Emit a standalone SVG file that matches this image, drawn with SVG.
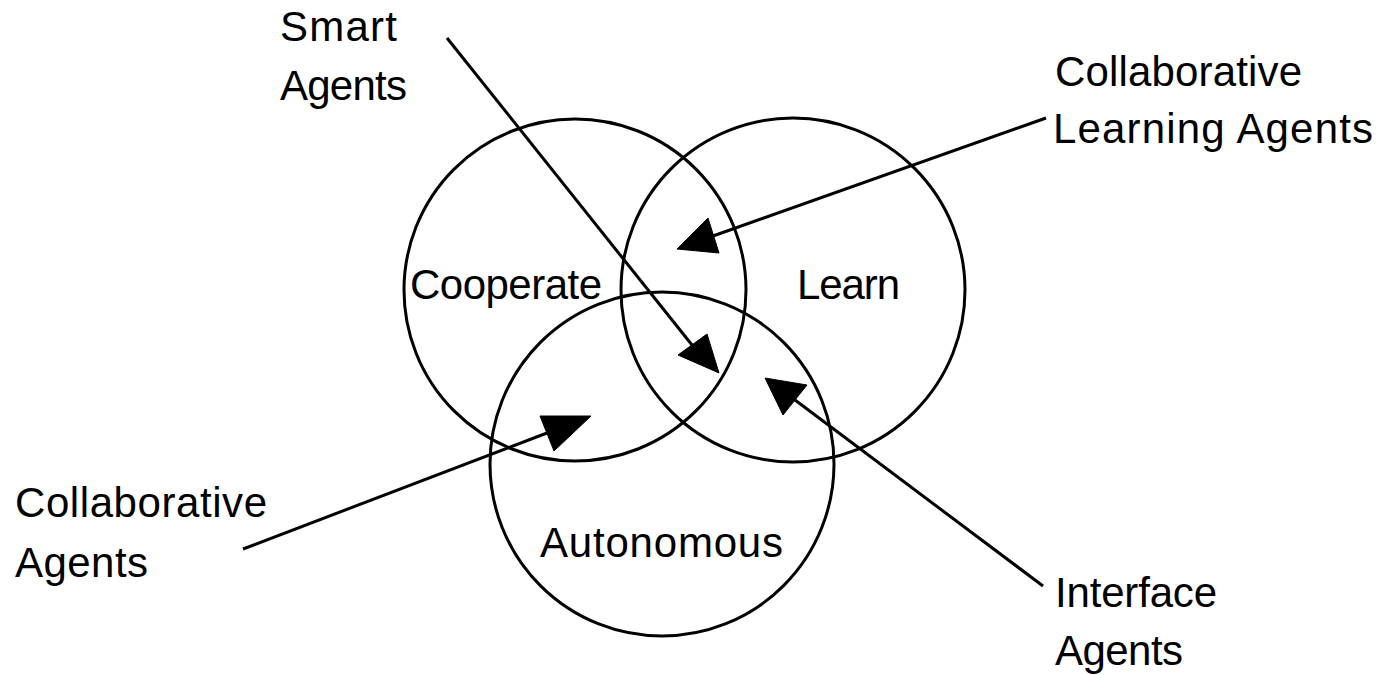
<svg xmlns="http://www.w3.org/2000/svg" width="1383" height="675" viewBox="0 0 1383 675">
<style>
.bg{fill:#ffffff}
.circ{fill:none;stroke:#000;stroke-width:3}
.ln{fill:none;stroke:#000;stroke-width:3}
.ah{fill:#000;stroke:#000;stroke-width:1}
.t{font-family:"Liberation Sans",Arial,sans-serif;font-size:42px;fill:#000}
</style>
<rect class="bg" x="0" y="0" width="1383" height="675"/>
<g id="cooperate">
<circle class="circ" cx="575" cy="290" r="171"/>
<text class="t" x="410" y="299" textLength="192">Cooperate</text>
</g>
<g id="learn">
<circle class="circ" cx="793" cy="290" r="172"/>
<text class="t" x="797" y="299" textLength="103">Learn</text>
</g>
<g id="autonomous">
<circle class="circ" cx="662" cy="464" r="172"/>
<text class="t" x="540" y="557" textLength="243">Autonomous</text>
</g>
<g id="smart-agents">
<text class="t" x="280" y="41" textLength="117">Smart</text>
<text class="t" x="280" y="100" textLength="127">Agents</text>
</g>
<g id="collaborative-learning-agents">
<text class="t" x="1055" y="86" textLength="247">Collaborative</text>
<text class="t" x="1053" y="143" textLength="320">Learning Agents</text>
</g>
<g id="collaborative-agents">
<text class="t" x="15" y="517" textLength="252">Collaborative</text>
<text class="t" x="15" y="577" textLength="133">Agents</text>
</g>
<g id="interface-agents">
<text class="t" x="1055" y="607" textLength="162">Interface</text>
<text class="t" x="1055" y="665" textLength="128">Agents</text>
</g>
<g id="connectors">
<line class="ln" x1="447" y1="38" x2="692" y2="345"/>
<polygon class="ah" points="678,355 707,334 719,373"/>
<line class="ln" x1="1046" y1="118" x2="713" y2="236"/>
<polygon class="ah" points="677,249 708,218 719,253"/>
<line class="ln" x1="1043" y1="586" x2="795" y2="400"/>
<polygon class="ah" points="765,378 807,385 783,415"/>
<line class="ln" x1="243" y1="549" x2="547" y2="433"/>
<polygon class="ah" points="540,416 591,416 554,451"/>
</g>
</svg>
